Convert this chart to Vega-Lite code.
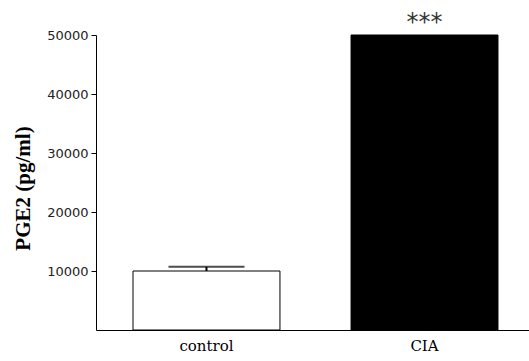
{
  "$schema": "https://vega.github.io/schema/vega-lite/v6.json",
  "width": 433,
  "height": 295,
  "autosize": "none",
  "padding": {"left": 96, "top": 35, "right": 0, "bottom": 31},
  "background": "white",
  "config": {"view": {"stroke": null}},
  "data": {"values": [
    {"group": "control", "value": 10000, "err": 10700, "sig": ""},
    {"group": "CIA", "value": 50000, "err": 50000, "sig": "***"}
  ]},
  "encoding": {
    "x": {"field": "group", "type": "nominal", "sort": ["control", "CIA"],
      "scale": {"paddingInner": 0.326, "paddingOuter": 0.156, "align": 0.544},
      "axis": {"title": null, "labelAngle": 0, "ticks": false, "domainColor": "black", "domainWidth": 1,
        "labelFont": "DejaVu Serif", "labelFontSize": 15, "labelColor": "black", "labelPadding": 8}}
  },
  "layer": [
    {
      "mark": {"type": "bar", "stroke": "black", "strokeWidth": 1},
      "encoding": {
        "y": {"field": "value", "type": "quantitative", "scale": {"domain": [0, 50000], "nice": false},
          "axis": {"title": "PGE2 (pg/ml)", "values": [10000, 20000, 30000, 40000, 50000], "format": "d",
            "grid": false, "domainColor": "black", "tickColor": "black", "tickSize": 5,
            "labelFont": "DejaVu Sans", "labelFontSize": 13, "labelColor": "#222", "labelPadding": 3,
            "titleFont": "Liberation Serif", "titleFontSize": 21, "titleFontWeight": "bold", "titleColor": "black", "titlePadding": 13, "titleY": 153}},
        "fill": {"field": "group", "type": "nominal", "scale": {"domain": ["control", "CIA"], "range": ["white", "black"]}, "legend": null}
      }
    },
    {
      "transform": [{"filter": "datum.group == 'control'"}],
      "mark": {"type": "rule", "color": "black", "strokeWidth": 2},
      "encoding": {"y": {"field": "value", "type": "quantitative"}, "y2": {"field": "err"}}
    },
    {
      "transform": [{"filter": "datum.group == 'control'"}],
      "mark": {"type": "tick", "color": "black", "thickness": 2, "size": 76},
      "encoding": {"y": {"field": "err", "type": "quantitative"}}
    },
    {
      "mark": {"type": "text", "baseline": "alphabetic", "dy": -5, "font": "DejaVu Sans", "fontSize": 24, "color": "#333"},
      "encoding": {"y": {"field": "value", "type": "quantitative"}, "text": {"field": "sig"}}
    }
  ]
}
